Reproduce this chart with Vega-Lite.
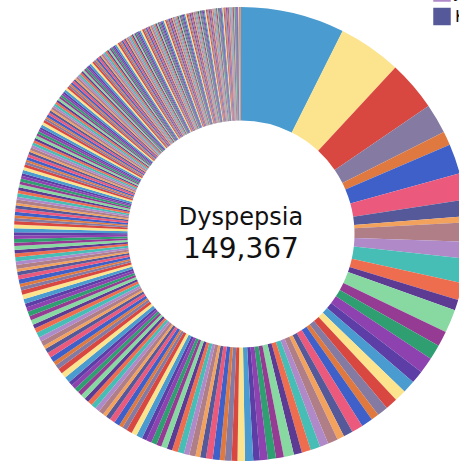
{
  "$schema": "https://vega.github.io/schema/vega-lite/v6.json",
  "width": 436,
  "height": 456,
  "autosize": {"type": "none"},
  "padding": {"left": 23, "top": 6, "right": 0, "bottom": 0},
  "background": "white",
  "config": {"view": {"stroke": null}},
  "data": {"values": [
    {"name": "Dyspepsia", "count": 149367},
    {"name": "Nausea", "count": 91240},
    {"name": "Headache", "count": 72150},
    {"name": "Diarrhoea", "count": 42950},
    {"name": "Fatigue", "count": 19930},
    {"name": "Dizziness", "count": 42670},
    {"name": "Vomiting", "count": 38180},
    {"name": "Abdominal pain", "count": 23580},
    {"name": "Rash", "count": 8980},
    {"name": "Constipation", "count": 27510},
    {"name": "Insomnia", "count": 24140},
    {"name": "Pruritus", "count": 35370},
    {"name": "Arthralgia", "count": 24400},
    {"name": "Back pain", "count": 15160},
    {"name": "Cough", "count": 33690},
    {"name": "Dyspnoea", "count": 21900},
    {"name": "Myalgia", "count": 21500},
    {"name": "Pyrexia", "count": 23020},
    {"name": "Anxiety", "count": 18530},
    {"name": "Depression", "count": 17970},
    {"name": "Hypertension", "count": 16850},
    {"name": "Oedema peripheral", "count": 17410},
    {"name": "Palpitations", "count": 15720},
    {"name": "Flatulence", "count": 11230},
    {"name": "Somnolence", "count": 16280},
    {"name": "Tremor", "count": 16290},
    {"name": "Paraesthesia", "count": 13480},
    {"name": "Alopecia", "count": 10110},
    {"name": "Urticaria", "count": 14600},
    {"name": "Chest pain", "count": 12350},
    {"name": "Asthenia", "count": 14040},
    {"name": "Malaise", "count": 12910},
    {"name": "Decreased appetite", "count": 11790},
    {"name": "Weight increased", "count": 14590},
    {"name": "Dry mouth", "count": 11210},
    {"name": "Vertigo", "count": 11770},
    {"name": "Migraine", "count": 11190},
    {"name": "Hyperhidrosis", "count": 9550},
    {"name": "Abdominal distension", "count": 11790},
    {"name": "Gastrooesophageal reflux", "count": 10670},
    {"name": "Muscle spasms", "count": 8420},
    {"name": "Pain in extremity", "count": 9550},
    {"name": "Hypotension", "count": 7300},
    {"name": "Blurred vision", "count": 10110},
    {"name": "Tinnitus", "count": 9540},
    {"name": "Epistaxis", "count": 8410},
    {"name": "Hot flush", "count": 6740},
    {"name": "Dermatitis", "count": 8980},
    {"name": "Erythema", "count": 7860},
    {"name": "Nasopharyngitis", "count": 8970},
    {"name": "Influenza like illness", "count": 8400},
    {"name": "Upper respiratory infection", "count": 7850},
    {"name": "Urinary tract infection", "count": 8430},
    {"name": "Chills", "count": 7290},
    {"name": "Confusional state", "count": 7870},
    {"name": "Syncope", "count": 7840},
    {"name": "Tachycardia", "count": 6730},
    {"name": "Event 057", "count": 8700},
    {"name": "Event 058", "count": 7860},
    {"name": "Event 059", "count": 8140},
    {"name": "Event 060", "count": 6740},
    {"name": "Event 061", "count": 5620},
    {"name": "Event 062", "count": 8130},
    {"name": "Event 063", "count": 7580},
    {"name": "Event 064", "count": 6730},
    {"name": "Event 065", "count": 5330},
    {"name": "Event 066", "count": 7300},
    {"name": "Event 067", "count": 6460},
    {"name": "Event 068", "count": 7290},
    {"name": "Event 069", "count": 6720},
    {"name": "Event 070", "count": 6450},
    {"name": "Event 071", "count": 7020},
    {"name": "Event 072", "count": 6180},
    {"name": "Event 073", "count": 6710},
    {"name": "Event 074", "count": 6440},
    {"name": "Event 075", "count": 5900},
    {"name": "Event 076", "count": 8490},
    {"name": "Event 077", "count": 7880},
    {"name": "Event 078", "count": 7580},
    {"name": "Event 079", "count": 6670},
    {"name": "Event 080", "count": 5460},
    {"name": "Event 081", "count": 7870},
    {"name": "Event 082", "count": 7280},
    {"name": "Event 083", "count": 6660},
    {"name": "Event 084", "count": 5150},
    {"name": "Event 085", "count": 7270},
    {"name": "Event 086", "count": 6370},
    {"name": "Event 087", "count": 7260},
    {"name": "Event 088", "count": 6650},
    {"name": "Event 089", "count": 6060},
    {"name": "Event 090", "count": 6970},
    {"name": "Event 091", "count": 6050},
    {"name": "Event 092", "count": 6640},
    {"name": "Event 093", "count": 6360},
    {"name": "Event 094", "count": 5760},
    {"name": "Event 095", "count": 6740},
    {"name": "Event 096", "count": 6460},
    {"name": "Event 097", "count": 6180},
    {"name": "Event 098", "count": 5330},
    {"name": "Event 099", "count": 4490},
    {"name": "Event 100", "count": 6170},
    {"name": "Event 101", "count": 5900},
    {"name": "Kidney pain", "count": 5320},
    {"name": "Event 103", "count": 4210},
    {"name": "Event 104", "count": 5610},
    {"name": "Joint swelling", "count": 5050},
    {"name": "Event 106", "count": 5890},
    {"name": "Event 107", "count": 5330},
    {"name": "Event 108", "count": 5040},
    {"name": "Event 109", "count": 5600},
    {"name": "Event 110", "count": 4770},
    {"name": "Event 111", "count": 5310},
    {"name": "Event 112", "count": 5030},
    {"name": "Event 113", "count": 4480},
    {"name": "Event 114", "count": 5580},
    {"name": "Event 115", "count": 5330},
    {"name": "Event 116", "count": 5050},
    {"name": "Event 117", "count": 4490},
    {"name": "Event 118", "count": 3650},
    {"name": "Event 119", "count": 5050},
    {"name": "Event 120", "count": 4770},
    {"name": "Event 121", "count": 4490},
    {"name": "Event 122", "count": 3370},
    {"name": "Event 123", "count": 4770},
    {"name": "Event 124", "count": 4210},
    {"name": "Event 125", "count": 4770},
    {"name": "Event 126", "count": 4490},
    {"name": "Event 127", "count": 4210},
    {"name": "Event 128", "count": 4490},
    {"name": "Event 129", "count": 3930},
    {"name": "Event 130", "count": 4380},
    {"name": "Event 131", "count": 4040},
    {"name": "Event 132", "count": 3650},
    {"name": "Event 133", "count": 4770},
    {"name": "Event 134", "count": 4490},
    {"name": "Event 135", "count": 4210},
    {"name": "Event 136", "count": 3650},
    {"name": "Event 137", "count": 3090},
    {"name": "Event 138", "count": 4210},
    {"name": "Event 139", "count": 4040},
    {"name": "Event 140", "count": 3650},
    {"name": "Event 141", "count": 2810},
    {"name": "Event 142", "count": 3930},
    {"name": "Event 143", "count": 3480},
    {"name": "Event 144", "count": 3930},
    {"name": "Event 145", "count": 3710},
    {"name": "Event 146", "count": 3480},
    {"name": "Event 147", "count": 3820},
    {"name": "Event 148", "count": 3260},
    {"name": "Event 149", "count": 3590},
    {"name": "Event 150", "count": 3370},
    {"name": "Event 151", "count": 3090},
    {"name": "Event 152", "count": 4040},
    {"name": "Event 153", "count": 3820},
    {"name": "Event 154", "count": 3590},
    {"name": "Event 155", "count": 3140},
    {"name": "Event 156", "count": 2580},
    {"name": "Event 157", "count": 3590},
    {"name": "Event 158", "count": 3480},
    {"name": "Event 159", "count": 3140},
    {"name": "Event 160", "count": 2410},
    {"name": "Event 161", "count": 3370},
    {"name": "Event 162", "count": 2980},
    {"name": "Event 163", "count": 3370},
    {"name": "Event 164", "count": 3140},
    {"name": "Event 165", "count": 2980},
    {"name": "Event 166", "count": 3260},
    {"name": "Event 167", "count": 2810},
    {"name": "Event 168", "count": 3090},
    {"name": "Event 169", "count": 2860},
    {"name": "Event 170", "count": 2640},
    {"name": "Event 171", "count": 3480},
    {"name": "Event 172", "count": 3260},
    {"name": "Event 173", "count": 3090},
    {"name": "Event 174", "count": 2700},
    {"name": "Event 175", "count": 2250},
    {"name": "Event 176", "count": 3090},
    {"name": "Event 177", "count": 2980},
    {"name": "Event 178", "count": 2700},
    {"name": "Event 179", "count": 2080},
    {"name": "Event 180", "count": 2860},
    {"name": "Event 181", "count": 2580},
    {"name": "Event 182", "count": 2860},
    {"name": "Event 183", "count": 2700},
    {"name": "Event 184", "count": 2530},
    {"name": "Event 185", "count": 2810},
    {"name": "Event 186", "count": 2410},
    {"name": "Event 187", "count": 2640},
    {"name": "Event 188", "count": 2470},
    {"name": "Event 189", "count": 2250},
    {"name": "Event 190", "count": 3090},
    {"name": "Event 191", "count": 2920},
    {"name": "Event 192", "count": 2750},
    {"name": "Event 193", "count": 2360},
    {"name": "Event 194", "count": 1970},
    {"name": "Event 195", "count": 2750},
    {"name": "Event 196", "count": 2640},
    {"name": "Event 197", "count": 2360},
    {"name": "Event 198", "count": 1850},
    {"name": "Event 199", "count": 2530},
    {"name": "Event 200", "count": 2250},
    {"name": "Event 201", "count": 2530},
    {"name": "Event 202", "count": 2360},
    {"name": "Event 203", "count": 2250},
    {"name": "Event 204", "count": 2470},
    {"name": "Event 205", "count": 2130},
    {"name": "Event 206", "count": 2300},
    {"name": "Event 207", "count": 2190},
    {"name": "Event 208", "count": 1970},
    {"name": "Event 209", "count": 2700},
    {"name": "Event 210", "count": 2580},
    {"name": "Event 211", "count": 2410},
    {"name": "Event 212", "count": 2080},
    {"name": "Event 213", "count": 1740},
    {"name": "Event 214", "count": 2410},
    {"name": "Event 215", "count": 2300},
    {"name": "Event 216", "count": 2080},
    {"name": "Event 217", "count": 1630},
    {"name": "Event 218", "count": 2250},
    {"name": "Event 219", "count": 1970},
    {"name": "Event 220", "count": 2250},
    {"name": "Event 221", "count": 2080},
    {"name": "Event 222", "count": 1970},
    {"name": "Event 223", "count": 2190},
    {"name": "Event 224", "count": 1910},
    {"name": "Event 225", "count": 2020},
    {"name": "Event 226", "count": 1910},
    {"name": "Event 227", "count": 1740},
    {"name": "Event 228", "count": 2410},
    {"name": "Event 229", "count": 2300},
    {"name": "Event 230", "count": 2130},
    {"name": "Event 231", "count": 1850},
    {"name": "Event 232", "count": 1570},
    {"name": "Event 233", "count": 2130},
    {"name": "Event 234", "count": 2080},
    {"name": "Event 235", "count": 1850},
    {"name": "Event 236", "count": 1460},
    {"name": "Event 237", "count": 2020},
    {"name": "Event 238", "count": 1740},
    {"name": "Event 239", "count": 2020},
    {"name": "Event 240", "count": 1850},
    {"name": "Event 241", "count": 1740},
    {"name": "Event 242", "count": 1970},
    {"name": "Event 243", "count": 1680},
    {"name": "Event 244", "count": 1800},
    {"name": "Event 245", "count": 1680},
    {"name": "Event 246", "count": 1570},
    {"name": "Event 247", "count": 2130},
    {"name": "Event 248", "count": 2020},
    {"name": "Event 249", "count": 1910},
    {"name": "Event 250", "count": 1630},
    {"name": "Event 251", "count": 1400},
    {"name": "Event 252", "count": 1910},
    {"name": "Event 253", "count": 1850},
    {"name": "Event 254", "count": 1630},
    {"name": "Event 255", "count": 1290},
    {"name": "Event 256", "count": 1800},
    {"name": "Event 257", "count": 1570},
    {"name": "Event 258", "count": 1800},
    {"name": "Event 259", "count": 1630},
    {"name": "Event 260", "count": 1570},
    {"name": "Event 261", "count": 1740},
    {"name": "Event 262", "count": 1520},
    {"name": "Event 263", "count": 1630},
    {"name": "Event 264", "count": 1520},
    {"name": "Event 265", "count": 1400},
    {"name": "Event 266", "count": 1910},
    {"name": "Event 267", "count": 1850},
    {"name": "Event 268", "count": 1740},
    {"name": "Event 269", "count": 1460},
    {"name": "Event 270", "count": 1240},
    {"name": "Event 271", "count": 1740},
    {"name": "Event 272", "count": 1680},
    {"name": "Event 273", "count": 1460},
    {"name": "Event 274", "count": 1180},
    {"name": "Event 275", "count": 1630},
    {"name": "Event 276", "count": 1400},
    {"name": "Event 277", "count": 1630},
    {"name": "Event 278", "count": 1460},
    {"name": "Event 279", "count": 1400},
    {"name": "Event 280", "count": 1570},
    {"name": "Event 281", "count": 1350},
    {"name": "Event 282", "count": 1460},
    {"name": "Event 283", "count": 1350},
    {"name": "Event 284", "count": 1240},
    {"name": "Event 285", "count": 1680},
    {"name": "Event 286", "count": 1630},
    {"name": "Event 287", "count": 1520},
    {"name": "Event 288", "count": 1290},
    {"name": "Event 289", "count": 1120},
    {"name": "Event 290", "count": 1520},
    {"name": "Event 291", "count": 1460},
    {"name": "Event 292", "count": 1290},
    {"name": "Event 293", "count": 1070},
    {"name": "Event 294", "count": 1460},
    {"name": "Event 295", "count": 1240},
    {"name": "Event 296", "count": 1460},
    {"name": "Event 297", "count": 1290},
    {"name": "Event 298", "count": 1240},
    {"name": "Event 299", "count": 1400},
    {"name": "Event 300", "count": 1180},
    {"name": "Event 301", "count": 1290},
    {"name": "Event 302", "count": 1180},
    {"name": "Event 303", "count": 1120},
    {"name": "Event 304", "count": 1520},
    {"name": "Event 305", "count": 1460},
    {"name": "Event 306", "count": 1400},
    {"name": "Event 307", "count": 1180},
    {"name": "Event 308", "count": 1010},
    {"name": "Event 309", "count": 1400},
    {"name": "Event 310", "count": 1350},
    {"name": "Event 311", "count": 1180},
    {"name": "Event 312", "count": 950},
    {"name": "Event 313", "count": 1350},
    {"name": "Event 314", "count": 1120},
    {"name": "Event 315", "count": 1350},
    {"name": "Event 316", "count": 1180},
    {"name": "Event 317", "count": 1120},
    {"name": "Event 318", "count": 1290},
    {"name": "Event 319", "count": 1070},
    {"name": "Event 320", "count": 1180},
    {"name": "Event 321", "count": 1070},
    {"name": "Event 322", "count": 1010},
    {"name": "Event 323", "count": 1120},
    {"name": "Event 324", "count": 1010},
    {"name": "Event 325", "count": 950},
    {"name": "Event 326", "count": 840},
    {"name": "Event 327", "count": 790}
  ]},
  "layer": [
    {
      "transform": [{"window": [{"op": "row_number", "as": "idx"}]}],
      "mark": {"type": "arc", "innerRadius": 113.5, "outerRadius": 227},
      "encoding": {
        "theta": {"field": "count", "type": "quantitative", "stack": true},
        "order": {"field": "idx", "type": "quantitative", "sort": "ascending"},
        "color": {
          "field": "name",
          "type": "nominal",
          "sort": null,
          "scale": {"range": ["#4A9BCF", "#FCE38E", "#D94840", "#857BA2", "#E0793F", "#3F60C8", "#EB5A7C", "#55599A", "#F2A25C", "#AF7E87", "#B08AC8", "#46BDB5", "#EE6D4F", "#5D3B93", "#88D8A2", "#963B93", "#2F9E70", "#8E42AF", "#5C3EA6"]},
          "legend": {
            "orient": "none",
            "legendX": 410,
            "legendY": -22,
            "values": ["Joint swelling", "Kidney pain"],
            "title": null,
            "padding": 0,
            "symbolType": "square",
            "symbolSize": 306,
            "symbolStrokeWidth": 0,
            "rowPadding": 5.5,
            "labelOffset": 4,
            "labelFontSize": 16,
            "labelFont": "DejaVu Sans",
            "labelColor": "#111111"
          }
        }
      }
    },
    {
      "transform": [{"filter": "datum.name === 'Dyspepsia'"}],
      "mark": {"type": "text", "font": "DejaVu Sans", "fontSize": 24, "align": "center", "baseline": "alphabetic", "dy": -9, "color": "#111111"},
      "encoding": {"text": {"field": "name", "type": "nominal"}}
    },
    {
      "transform": [{"filter": "datum.name === 'Dyspepsia'"}],
      "mark": {"type": "text", "font": "DejaVu Sans", "fontSize": 28, "align": "center", "baseline": "alphabetic", "dy": 24, "color": "#111111"},
      "encoding": {"text": {"field": "count", "type": "quantitative", "format": ","}}
    }
  ]
}
